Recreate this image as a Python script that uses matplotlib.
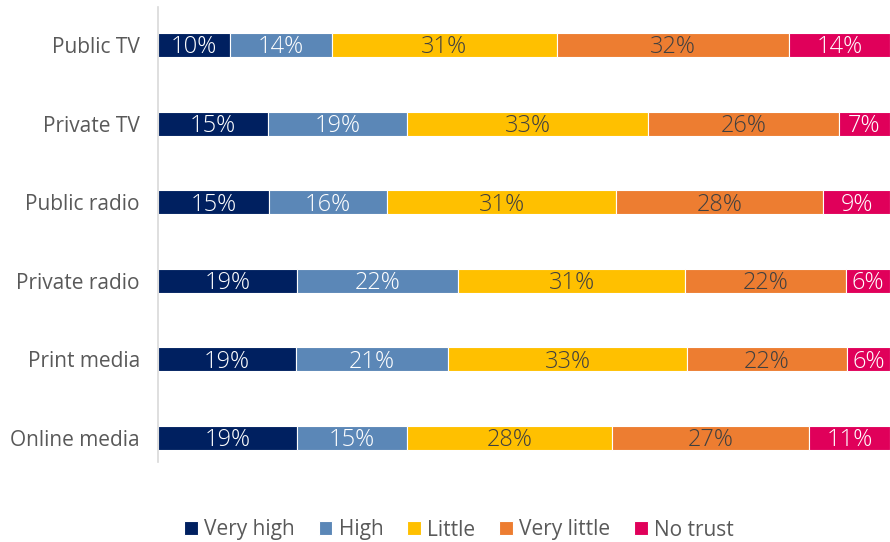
import matplotlib.pyplot as plt
import numpy as np

plt.rcParams['font.family'] = ['Open Sans', 'DejaVu Sans']

categories = ['Public TV', 'Private TV', 'Public radio', 'Private radio', 'Print media', 'Online media']
levels = ['Very high', 'High', 'Little', 'Very little', 'No trust']
very_high = [10, 15, 15, 19, 19, 19]
high = [14, 19, 16, 22, 21, 15]
little = [31, 33, 31, 31, 33, 28]
very_little = [32, 26, 28, 22, 22, 27]
no_trust = [14, 7, 9, 6, 6, 11]

colors = ['#002060', '#5B87B7', '#FFC000', '#ED7D31', '#E0005A']
text_colors = ['white', 'white', '#404040', '#404040', 'white']

series = np.array([very_high, high, little, very_little, no_trust], dtype=float)
shares = series / series.sum(axis=0) * 100

fig = plt.figure(figsize=(8.9, 5.42), dpi=100)
ax = fig.add_axes([158 / 890, 1 - 462 / 542, 1 - 158 / 890, 455 / 542])

y = np.arange(len(categories))
left = np.zeros(len(categories))
for i, name in enumerate(levels):
    ax.barh(y, shares[i], left=left, height=0.305, color=colors[i],
            edgecolor='white', linewidth=0.8, label=name)
    for j in range(len(categories)):
        ax.text(left[j] + shares[i][j] / 2, y[j] + 0.03, f'{int(series[i][j])}%',
                ha='center', va='center', fontsize=17, fontweight='light',
                color=text_colors[i])
    left += shares[i]

ax.set_xlim(0, 100)
ax.set_ylim(5.305, -0.483)
ax.set_yticks(y)
ax.set_yticklabels(categories, fontsize=15, color='#595959')
ax.tick_params(axis='y', length=0, pad=13)
ax.set_xticks([])
for s in ['top', 'right', 'bottom']:
    ax.spines[s].set_visible(False)
ax.spines['left'].set_color('#D9D9D9')
ax.spines['left'].set_linewidth(1.2)

handles, labels = ax.get_legend_handles_labels()
fig.legend(handles, labels, loc='center', bbox_to_anchor=(459 / 890, 1 - 530 / 542),
           ncol=5, frameon=False, fontsize=15, handlelength=0.65, handleheight=0.65,
           handletextpad=0.3, columnspacing=1.15, labelcolor='#595959')

fig.savefig('out.png', dpi=100)
